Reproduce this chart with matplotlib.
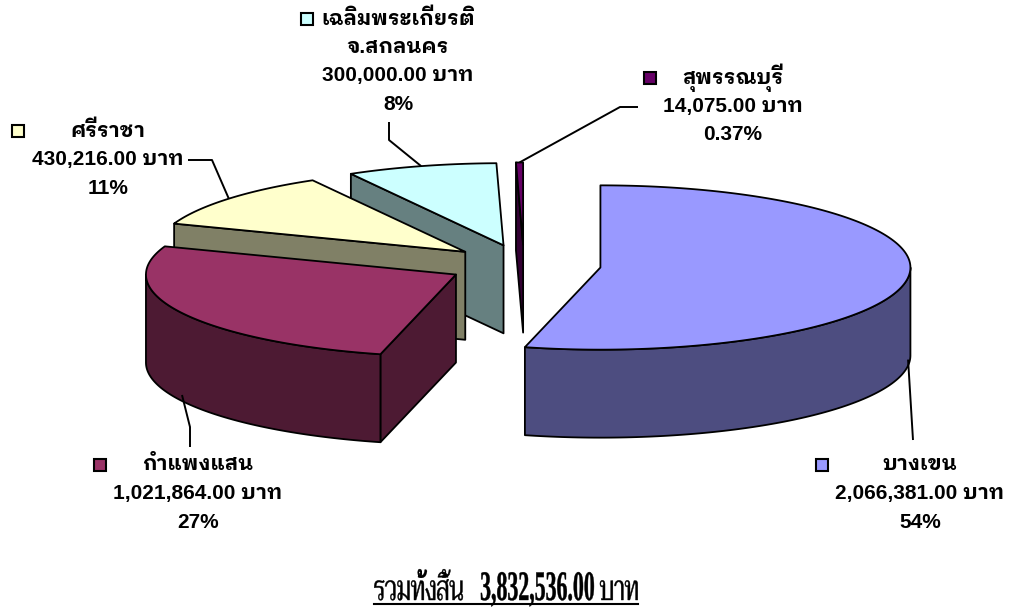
import numpy as np
import matplotlib
matplotlib.use("Agg")
import matplotlib.pyplot as plt
from matplotlib.patches import Polygon, Rectangle, PathPatch
from matplotlib.textpath import TextPath
from matplotlib.font_manager import FontProperties
from matplotlib.transforms import Affine2D

# data
names = ['บางเขน', 'กำแพงแสน', 'ศรีราชา', 'เฉลิมพระเกียรติ\nจ.สกลนคร', 'สุพรรณบุรี']
values = [2066381.00, 1021864.00, 430216.00, 300000.00, 14075.00]
unit = 'บาท'
title_word = 'รวมทั้งสิ้น'

# colours (top face, side walls)
top_colors = ['#9999FF', '#993366', '#FFFFCC', '#CCFFFF', '#660066']
side_colors = ['#4D4D80', '#4D1A33', '#808066', '#668080', '#330033']

# pie geometry in pixel units
CX, CY = 524, 265
R = 310
TILT = 0.265
DEPTH = 88
EXPLODE = 77

# label layout: centre x, first line y, legend key x
label_pos = [(920, 465, 822), (198, 465, 100), (108, 131, 18), (398, 19, 307), (733, 78, 650)]
# leader line bend points (from the slice outwards)
leaders = [[(913, 440)],
           [(190, 427), (190, 447)],
           [(212, 160), (188, 160)],
           [(389, 140), (389, 122)],
           [(620, 107), (638, 107)]]

LABEL_FONT = ['Liberation Sans', 'IBM Plex Sans Thai Looped', 'Noto Sans Thai Looped', 'DejaVu Sans']
LINE_GAP = 28.5

total = sum(values)
fracs = [v / total for v in values]
ends = np.cumsum(fracs) * 360
starts = np.concatenate([[0], ends[:-1]])
mids = (starts + ends) / 2

fig = plt.figure(figsize=(10.15, 6.09), dpi=100)
ax = fig.add_axes([0, 0, 1, 1])
ax.set_xlim(0, 1015)
ax.set_ylim(609, 0)
ax.axis('off')


def offset(mid):
    t = np.radians(mid)
    return EXPLODE * np.sin(t), -EXPLODE * TILT * np.cos(t)


def rim(a, ox, oy, z=0.0):
    t = np.radians(a)
    return np.column_stack([CX + ox + R * np.sin(t), CY + oy - R * TILT * np.cos(t) + z])


def arc(a1, a2, ox, oy, z=0.0):
    n = max(2, int(abs(a2 - a1)) + 2)
    return rim(np.linspace(a1, a2, n), ox, oy, z)


def face(pts, color):
    ax.add_patch(Polygon(pts, closed=True, facecolor=color, edgecolor='black',
                         lw=1.3, joinstyle='round'))


# back slices first
order = sorted(range(len(values)), key=lambda i: -np.cos(np.radians(mids[i])))

for i in order:
    a1, a2 = starts[i], ends[i]
    ox, oy = offset(mids[i])
    apex = np.array([CX + ox, CY + oy])
    down = np.array([0, DEPTH])
    # radial walls facing the viewer
    for a, nrm in ((a1, a1 - 90), (a2, a2 + 90)):
        if np.cos(np.radians(nrm - 180)) > 1e-6:
            p = rim(a, ox, oy)[0]
            face([apex, p, p + down, apex + down], side_colors[i])
    # outer curved wall (front half only)
    lo, hi = max(a1, 90), min(a2, 270)
    if hi > lo:
        face(np.vstack([arc(lo, hi, ox, oy), arc(hi, lo, ox, oy, DEPTH)]), side_colors[i])
    # top face
    face(np.vstack([[apex], arc(a1, a2, ox, oy)]), top_colors[i])

# data labels
for i in range(len(values)):
    ox, oy = offset(mids[i])
    anchor = rim(mids[i], ox, oy)[0]
    if np.cos(np.radians(mids[i])) < 0:
        anchor = anchor + np.array([0, DEPTH - 6])
    pts = np.vstack([[anchor], leaders[i]])
    ax.plot(pts[:, 0], pts[:, 1], color='black', lw=1.4, solid_capstyle='butt')

    pct = fracs[i] * 100
    pct_s = f'{pct:.2f}%' if pct < 1 else f'{pct:.0f}%'
    lines = names[i].split('\n') + [f'{values[i]:,.2f} {unit}', pct_s]
    lx, ly, kx = label_pos[i]
    for j, s in enumerate(lines):
        ax.text(lx, ly + j * LINE_GAP, s, ha='center', va='center', fontsize=15,
                fontweight='bold', family=LABEL_FONT)
    ax.add_patch(Rectangle((kx - 6, ly - 6), 12, 12, facecolor=top_colors[i],
                           edgecolor='black', lw=1.5))


# total line at the bottom, drawn as condensed text paths
def path_text(x, base, s, prop, size, sx):
    tp = TextPath((0, 0), s, size=size, prop=prop)
    ext = tp.get_extents()
    tr = Affine2D().translate(-ext.x0, 0).scale(sx, -1).translate(x, base)
    return tr.transform_path(tp), (ext.x1 - ext.x0) * sx


thai_fp = FontProperties(family='Taviraj')
num_fp = FontProperties(family='Liberation Serif', weight='bold')
parts = [(title_word, thai_fp, 35, 0.64, 18),
         (f'{total:,.2f}', num_fp, 42, 0.52, 6),
         (unit, thai_fp, 35, 0.64, 0)]
built = []
width = 0
for s, fp, size, sx, gap in parts:
    p, w = path_text(0, 0, s, fp, size, sx)
    built.append((s, fp, size, sx, width))
    width += w + gap
x0 = 506 - width / 2
BASE = 600
for s, fp, size, sx, dx in built:
    p, w = path_text(x0 + dx, BASE, s, fp, size, sx)
    ax.add_patch(PathPatch(p, facecolor='black', edgecolor='black', lw=0.3))
ax.plot([x0, x0 + width], [BASE + 4, BASE + 4], color='black', lw=1.5)

fig.savefig('out.png', dpi=100)
